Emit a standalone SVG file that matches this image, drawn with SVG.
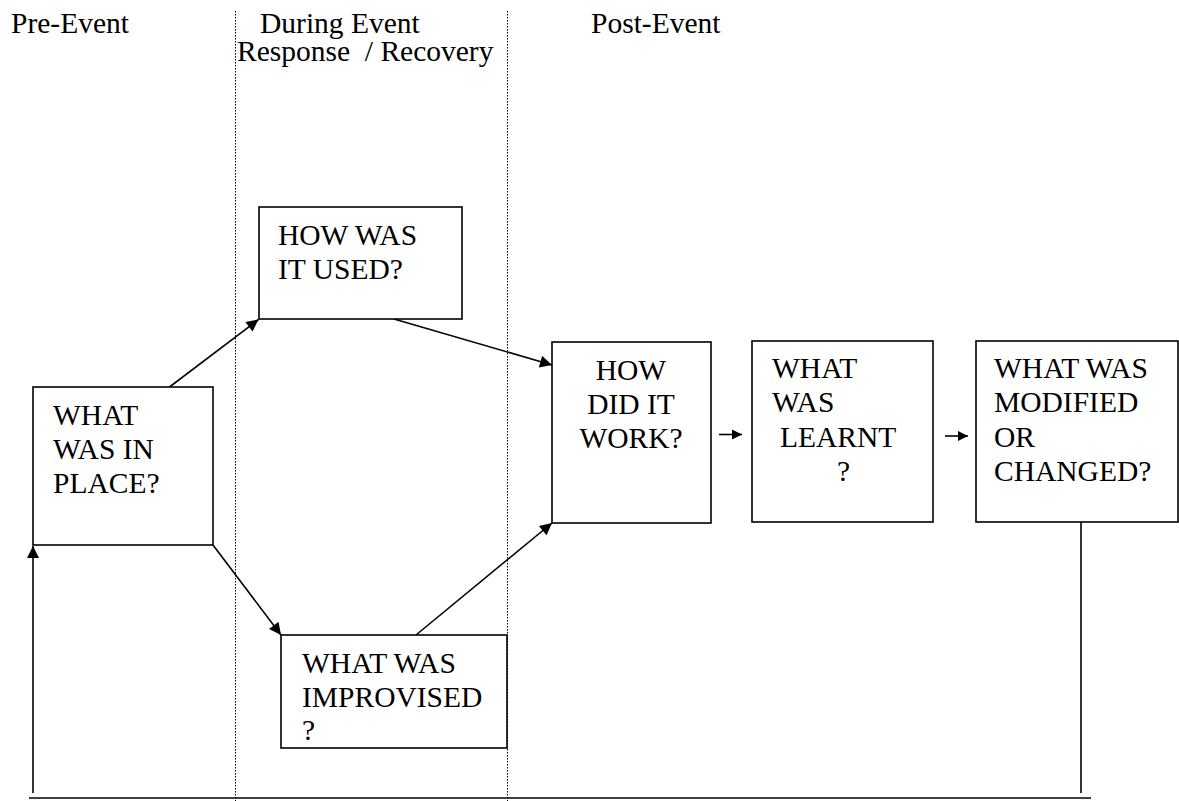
<svg xmlns="http://www.w3.org/2000/svg" width="1179" height="801" viewBox="0 0 1179 801">
<defs>
<style>
text{font-family:"Liberation Serif","Times New Roman",serif;font-size:29.5px;fill:#000}
.box{fill:#fff;stroke:#000;stroke-width:1.6}
.ln{stroke:#000;stroke-width:1.6;fill:none}
.dot{stroke:#000;stroke-width:1;stroke-dasharray:1.5 1.5;fill:none}
</style>
<marker id="ah" viewBox="0 0 10 10" refX="10" refY="5" markerWidth="10" markerHeight="11" markerUnits="userSpaceOnUse" orient="auto"><path d="M0,0 L10,5 L0,10 z" fill="#000"/></marker>
<marker id="ahb" viewBox="0 0 10 10" refX="10" refY="5" markerWidth="15" markerHeight="12" markerUnits="userSpaceOnUse" orient="auto"><path d="M0,0 L10,5 L0,10 z" fill="#000"/></marker>
</defs>
<rect width="1179" height="801" fill="#fff"/>
<g id="phases">
<line class="dot" x1="235.5" y1="11" x2="235.5" y2="801"/>
<line class="dot" x1="507.5" y1="11" x2="507.5" y2="801"/>
<text x="11" y="33">Pre-Event</text>
<text x="260" y="33">During Event</text>
<text x="237" y="61" xml:space="preserve">Response  / Recovery</text>
<text x="591" y="33">Post-Event</text>
</g>
<g id="connectors">
<line class="ln" x1="169.5" y1="387" x2="258.5" y2="319.5" marker-end="url(#ahb)"/>
<line class="ln" x1="394" y1="319" x2="552" y2="365" marker-end="url(#ahb)"/>
<line class="ln" x1="213" y1="545" x2="281" y2="635" marker-end="url(#ahb)"/>
<line class="ln" x1="416" y1="635" x2="552" y2="523" marker-end="url(#ahb)"/>
<line class="ln" x1="719" y1="434.5" x2="742" y2="434.5" marker-end="url(#ah)"/>
<line class="ln" x1="945" y1="436" x2="968" y2="436" marker-end="url(#ah)"/>
<line class="ln" x1="1081" y1="522" x2="1081" y2="793"/>
<line class="ln" x1="29" y1="798" x2="1091" y2="798"/>
<line class="ln" x1="33" y1="793" x2="33" y2="546" marker-end="url(#ahb)"/>
</g>
<g id="n-inplace">
<rect class="box" x="33" y="387" width="180" height="158"/>
<text x="53" y="425">WHAT</text>
<text x="53" y="459">WAS IN</text>
<text x="53" y="493">PLACE?</text>
</g>
<g id="n-used">
<rect class="box" x="259" y="207" width="203" height="112"/>
<text x="278" y="245">HOW WAS</text>
<text x="278" y="279">IT USED?</text>
</g>
<g id="n-improvised">
<rect class="box" x="281" y="635" width="226" height="113"/>
<text x="302" y="673">WHAT WAS</text>
<text x="302" y="707">IMPROVISED</text>
<text x="302" y="740">?</text>
</g>
<g id="n-work">
<rect class="box" x="552" y="342" width="159" height="181"/>
<text x="631" y="380" text-anchor="middle">HOW</text>
<text x="631" y="414" text-anchor="middle">DID IT</text>
<text x="631" y="448" text-anchor="middle">WORK?</text>
</g>
<g id="n-learnt">
<rect class="box" x="752" y="341" width="181" height="181"/>
<text x="772" y="378">WHAT</text>
<text x="772" y="412">WAS</text>
<text x="780" y="447">LEARNT</text>
<text x="837" y="481">?</text>
</g>
<g id="n-modified">
<rect class="box" x="976" y="341" width="202" height="181"/>
<text x="994" y="378">WHAT WAS</text>
<text x="994" y="412">MODIFIED</text>
<text x="994" y="447">OR</text>
<text x="994" y="481">CHANGED?</text>
</g>
</svg>
